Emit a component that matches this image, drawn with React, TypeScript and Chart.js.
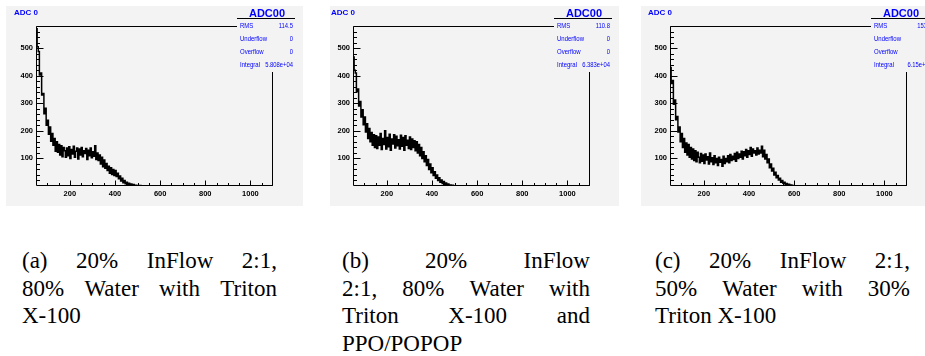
import React, { useEffect, useRef } from "react";
import { Chart, registerables } from "chart.js";

Chart.register(...registerables);

// ---- data ----
const BIN_START = 50;
const BIN_WIDTH = 5;
const X_MIN = 50;
const X_MAX = 1100;
const Y_MIN = 0;
const Y_MAX = 580;
const X_TICKS = [200, 400, 600, 800, 1000];
const Y_TICKS = [100, 200, 300, 400, 500];

const countsA = [
  570, 505, 488, 402, 410, 330, 335, 262, 282, 220,
  238, 188, 214, 162, 190, 148, 172, 126, 160, 122,
  150, 112, 146, 106, 140, 128, 104, 138, 110, 142,
  100, 132, 116, 144, 104, 126, 138, 98, 134, 112,
  140, 106, 128, 118, 136, 96, 130, 110, 138, 102,
  124, 108, 146, 96, 120, 92, 112, 80, 104, 70,
  94, 64, 82, 56, 72, 46, 66, 42, 60, 38,
  56, 34, 46, 26, 36, 18, 28, 12, 20, 8,
  14, 5, 10, 3, 7, 2, 5, 1, 3, 1,
  2, 0, 2, 0, 1, 0, 1, 0, 0, 1,
  0, 0, 0, 0, 0, 0, 0, 0, 0, 0,
  0, 0, 0, 0, 0, 0, 0, 0, 0, 0,
];

const countsB = [
  468, 420, 410, 342, 352, 290, 306, 250, 276, 222,
  250, 196, 226, 172, 208, 160, 194, 148, 186, 140,
  182, 136, 178, 148, 190, 132, 172, 150, 200, 134,
  176, 142, 188, 130, 170, 152, 186, 138, 180, 146,
  168, 134, 184, 144, 176, 130, 182, 148, 166, 136,
  178, 132, 170, 140, 164, 128, 160, 120, 150, 110,
  140, 100, 124, 88, 110, 74, 96, 60, 80, 48,
  66, 38, 52, 28, 40, 20, 30, 14, 22, 9,
  16, 5, 11, 3, 7, 2, 4, 1, 3, 1,
  1, 0, 1, 0, 0, 0, 1, 0, 0, 0,
  0, 0, 0, 0, 0, 0, 0, 0, 0, 0,
  0, 0, 0, 0, 0, 0, 0, 0, 0, 0,
];

const countsC = [
  430, 372, 382, 296, 312, 240, 252, 196, 214, 160,
  190, 140, 172, 122, 156, 112, 150, 104, 140, 98,
  134, 92, 128, 88, 122, 104, 84, 118, 90, 112,
  82, 116, 94, 106, 80, 120, 88, 102, 78, 110,
  84, 100, 74, 104, 86, 96, 72, 108, 82, 100,
  88, 110, 84, 114, 92, 108, 96, 118, 90, 122,
  100, 116, 104, 126, 98, 124, 110, 132, 104, 128,
  114, 140, 108, 134, 120, 128, 112, 138, 116, 130,
  120, 144, 106, 130, 98, 114, 84, 98, 66, 80,
  54, 64, 40, 50, 30, 38, 22, 28, 14, 20,
  10, 14, 6, 9, 4, 6, 2, 4, 1, 2,
  1, 1, 0, 1, 0, 0, 0, 0, 0, 0,
];

const HIST_TITLE = "ADC 0";
const STATS_TITLE = "ADC00";
const STATS_LABELS = ["RMS", "Underflow", "Overflow", "Integral"];
const statsA = ["114.5", "0", "0", "5.808e+04"];
const statsB = ["110.8", "0", "0", "6.383e+04"];
const statsC = ["153.2", "0", "0", "6.15e+04"];

const captionA = [["(a)", "20%", "InFlow", "2:1,"], ["80%", "Water", "with", "Triton"], ["X-100"]];
const captionB = [["(b)", "20%", "InFlow"], ["2:1,", "80%", "Water", "with"], ["Triton", "X-100", "and"], ["PPO/POPOP"]];
const captionC = [["(c)", "20%", "InFlow", "2:1,"], ["50%", "Water", "with", "30%"], ["Triton", "X-100"]];

// ---- layout ----
const GREY = "rgb(243,243,243)";
const BLUE = "#0000ff";
const PANEL_H = 200;
const FRAME_TOP = 20;
const FRAME_W = 237;
const X_AXIS_H = 20;

type PanelProps = {
  left: number;
  width: number;
  frameOffset: number;
  counts: number[];
  stats: string[];
  valueRight: number;
};

function Panel({ left, width, frameOffset, counts, stats, valueRight }: PanelProps) {
  const ref = useRef<HTMLCanvasElement | null>(null);
  useEffect(() => {
    const canvas = ref.current;
    if (!canvas) return;
    const pts = counts.map((c, i) => ({ x: BIN_START + i * BIN_WIDTH, y: c }));
    pts.push({ x: BIN_START + counts.length * BIN_WIDTH, y: counts[counts.length - 1] });
    pts.push({ x: X_MAX, y: 0 });

    const labelFont = { family: "Liberation Sans, Arial, sans-serif", size: 7.5, weight: "bold" as const };

    const rootPlugin = {
      id: "rootFrame",
      afterDraw(chart: any) {
        const { ctx, chartArea: a, scales } = chart;
        const xs = scales.x;
        const ys = scales.y;
        const L = Math.round(a.left) + 0.5;
        const R = Math.round(a.right) - 0.5;
        const T = Math.round(a.top) + 0.5;
        const B = Math.round(a.bottom) - 0.5;
        const statsLeft = a.left + 201;
        const statsBottom = a.top + 46;
        ctx.save();
        ctx.strokeStyle = "#000";
        ctx.lineWidth = 1;
        ctx.beginPath();
        ctx.moveTo(statsLeft, T);
        ctx.lineTo(L, T);
        ctx.lineTo(L, B);
        ctx.lineTo(R, B);
        ctx.lineTo(R, statsBottom);
        ctx.stroke();
        // y ticks
        ctx.beginPath();
        for (let v = 20; v <= Y_MAX; v += 20) {
          const py = Math.round(ys.getPixelForValue(v)) + 0.5;
          const len = v % 100 === 0 ? 7 : 3.5;
          ctx.moveTo(L, py);
          ctx.lineTo(L + len, py);
        }
        // x ticks
        for (let v = 100; v < X_MAX; v += 50) {
          const px = Math.round(xs.getPixelForValue(v)) + 0.5;
          const len = v % 200 === 0 ? 5 : 2.5;
          ctx.moveTo(px, B);
          ctx.lineTo(px, B - len);
        }
        ctx.stroke();

        // histogram title
        ctx.fillStyle = BLUE;
        ctx.font = "bold 8px Liberation Sans, Arial, sans-serif";
        ctx.textAlign = "left";
        ctx.textBaseline = "alphabetic";
        ctx.fillText(HIST_TITLE, a.left - 22, 9.2);

        // stats box
        ctx.font = "bold 11px Liberation Sans, Arial, sans-serif";
        ctx.textAlign = "center";
        ctx.fillText(STATS_TITLE, a.left + 231, 11.3);
        ctx.beginPath();
        ctx.moveTo(statsLeft, 12.5);
        ctx.lineTo(a.left + 259, 12.5);
        ctx.stroke();

        const rows = [0, 13, 26.3, 39];
        ctx.font = "7.5px Liberation Sans, Arial, sans-serif";
        ctx.textBaseline = "middle";
        STATS_LABELS.forEach((lab, i) => {
          const yy = a.top + rows[i];
          ctx.save();
          ctx.translate(a.left + 204, yy);
          ctx.scale(0.8, 1);
          ctx.textAlign = "left";
          ctx.fillText(lab, 0, 0);
          ctx.restore();
          ctx.save();
          ctx.translate(a.left + valueRight, yy);
          ctx.scale(0.78, 1);
          ctx.textAlign = "right";
          ctx.fillText(stats[i], 0, 0);
          ctx.restore();
        });
        ctx.restore();
      },
    };

    const chart = new Chart(canvas, {
      type: "line",
      data: {
        datasets: [
          {
            data: pts,
            stepped: true,
            borderColor: "#000",
            borderWidth: 1.5,
            pointRadius: 0,
            fill: false,
          },
        ],
      },
      options: {
        animation: false,
        responsive: false,
        devicePixelRatio: 1,
        events: [],
        layout: { padding: { left: 0, top: FRAME_TOP, right: width - frameOffset - FRAME_W, bottom: 0 } },
        plugins: { legend: { display: false }, tooltip: { enabled: false }, title: { display: false } },
        scales: {
          x: {
            type: "linear",
            min: X_MIN,
            max: X_MAX,
            afterFit: (s: any) => {
              s.height = X_AXIS_H;
            },
            afterBuildTicks: (s: any) => {
              s.ticks = X_TICKS.map((v) => ({ value: v }));
            },
            grid: { display: false, drawTicks: false },
            border: { display: false },
            ticks: { font: labelFont, color: "#000", padding: 3, maxRotation: 0, autoSkip: false, callback: (v: any) => String(v) },
          },
          y: {
            type: "linear",
            min: Y_MIN,
            max: Y_MAX,
            afterFit: (s: any) => {
              s.width = frameOffset;
            },
            afterBuildTicks: (s: any) => {
              s.ticks = Y_TICKS.map((v) => ({ value: v }));
            },
            grid: { display: false, drawTicks: false },
            border: { display: false },
            ticks: { font: labelFont, color: "#000", padding: 3, autoSkip: false, callback: (v: any) => String(v) },
          },
        },
      },
      plugins: [rootPlugin],
    });
    return () => chart.destroy();
  }, [left, width, frameOffset, counts, stats, valueRight]);

  return (
    <div style={{ position: "absolute", left, top: 6, width, height: PANEL_H, background: GREY }}>
      <canvas ref={ref} width={width} height={PANEL_H} style={{ display: "block" }} />
    </div>
  );
}

function Caption({ left, width, lines }: { left: number; width: number; lines: string[][] }) {
  return (
    <div
      style={{
        position: "absolute",
        left,
        top: 247,
        width,
        fontFamily: "Liberation Serif, Times New Roman, serif",
        fontSize: 23,
        lineHeight: "27.5px",
        color: "#000",
      }}
    >
      {lines.map((words, i) =>
        i < lines.length - 1 ? (
          <div key={i} style={{ display: "flex", justifyContent: "space-between", height: 27.5, whiteSpace: "nowrap" }}>
            {words.map((w, j) => (
              <span key={j}>{w}</span>
            ))}
          </div>
        ) : (
          <div key={i} style={{ height: 27.5, whiteSpace: "nowrap" }}>
            {words.join(" ")}
          </div>
        )
      )}
    </div>
  );
}

export default function App() {
  return (
    <div style={{ position: "absolute", left: 0, top: 0, width: 925, height: 356, overflow: "hidden", background: "#fff" }}>
      <Panel left={6} width={297} frameOffset={30} counts={countsA} stats={statsA} valueRight={257} />
      <Panel left={330} width={289} frameOffset={23} counts={countsB} stats={statsB} valueRight={257} />
      <Panel left={641} width={297} frameOffset={29} counts={countsC} stats={statsC} valueRight={262} />
      <Caption left={22} width={255} lines={captionA} />
      <Caption left={342} width={248} lines={captionB} />
      <Caption left={655} width={255} lines={captionC} />
    </div>
  );
}
